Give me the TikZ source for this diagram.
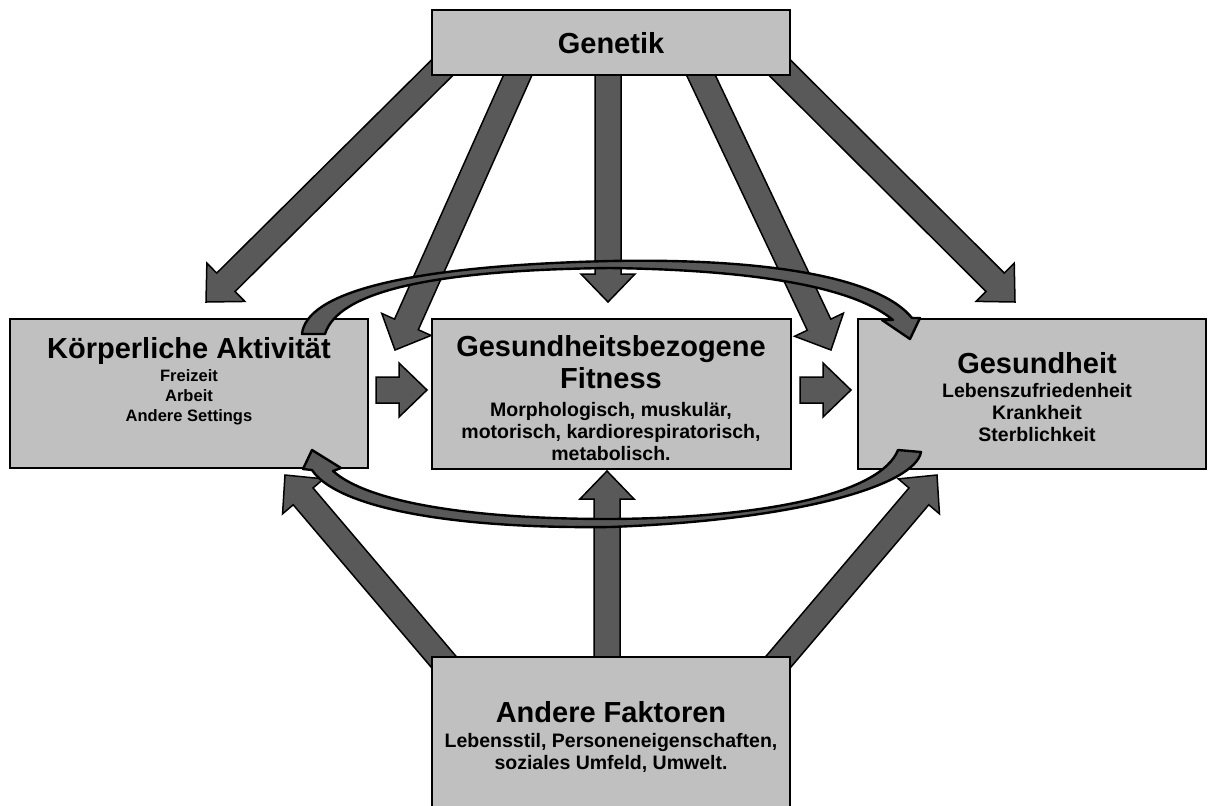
\documentclass[tikz,border=0pt]{standalone}
\usepackage{fontspec}
\setmainfont{Liberation Sans}
\usetikzlibrary{calc,backgrounds}
\definecolor{boxgray}{HTML}{C0C0C0}
\definecolor{arrowgray}{HTML}{595959}

% fonts (1 unit = 0.5pt)
\newcommand{\titlefont}{\fontsize{14.5pt}{16pt}\selectfont\bfseries}
\newcommand{\subsmall}{\fontsize{8.25pt}{10pt}\selectfont\bfseries\lineskiplimit=-20pt}
\newcommand{\sublarge}{\fontsize{9.75pt}{11pt}\selectfont\bfseries\lineskiplimit=-20pt}

\tikzset{
  box/.style={draw=black, line width=1pt, fill=boxgray, inner sep=0pt},
  txt/.style={inner sep=0pt, align=center},
  blockarrow/.style={draw=black, line width=0.75pt, fill=arrowgray, line join=miter},
  looparrow/.style={draw=black, line width=1.2pt, fill=arrowgray, line join=round},
}

% straight block arrow from #1 to the tip #2
\newcommand{\blockarrow}[2]{%
  \coordinate (ba-h) at ($(#2)!14pt!(#1)$);
  \draw[blockarrow] ($(#1)!6.5pt!90:(#2)$) -- ($(ba-h)!6.5pt!90:(#2)$)
    -- ($(ba-h)!13.5pt!90:(#2)$) -- (#2) -- ($(ba-h)!13.5pt!-90:(#2)$)
    -- ($(ba-h)!6.5pt!-90:(#2)$) -- ($(#1)!6.5pt!-90:(#2)$) -- cycle;}

\begin{document}
\begin{tikzpicture}[x=0.5pt,y=-0.5pt]
\path[use as bounding box] (0,0) rectangle (1215,805);
\clip (0,0) rectangle (1215,805);

% boxes
\node[box, minimum width=179pt, minimum height=32.5pt] (gen) at (611,42.5) {};
\node[box, minimum width=179pt, minimum height=74.5pt] (ka) at (189,393.5) {};
\node[box, minimum width=179.5pt, minimum height=75pt] (fit) at (611.5,394) {};
\node[box, minimum width=174pt, minimum height=75pt] (ges) at (1032,394) {};
\node[box, minimum width=179pt, minimum height=80pt] (af) at (611,737) {};

% texts
\node[txt, anchor=base, font=\titlefont] (gen-t) at (611,53) {Genetik};
\node[txt, anchor=north, font=\subsmall] (ka-t) at (189,337)
  {{\titlefont Körperliche Aktivität}\\[1.5pt] Freizeit\\ Arbeit\\ Andere Settings};
\node[txt, anchor=north, font=\sublarge] (fit-t) at (611,335)
  {{\titlefont Gesundheitsbezogene}\\[5pt]{\titlefont Fitness}\\[3pt]
   Morphologisch, muskulär,\\ motorisch, kardiorespiratorisch,\\ metabolisch.};
\node[txt, anchor=north, font=\sublarge] (ges-t) at (1037,352)
  {{\titlefont Gesundheit}\\[1pt] Lebenszufriedenheit\\ Krankheit\\ Sterblichkeit};
\node[txt, anchor=north, font=\sublarge] (af-t) at (611,701)
  {{\titlefont Andere Faktoren}\\[1.5pt] Lebensstil, Personeneigenschaften,\\ soziales Umfeld, Umwelt.};

% end points of the straight arrows
\coordinate (g1a) at (460,50);  \coordinate (g1b) at (206,302);
\coordinate (g2a) at (529,50);  \coordinate (g2b) at (395,350);
\coordinate (g3a) at (608,50);  \coordinate (g3b) at (608,302);
\coordinate (g4a) at (689,50);  \coordinate (g4b) at (831,350);
\coordinate (g5a) at (762,50);  \coordinate (g5b) at (1015,302);
\coordinate (b1a) at (607,700); \coordinate (b1b) at (607,471);
\coordinate (b2a) at (460,681); \coordinate (b2b) at (285,475);
\coordinate (b3a) at (762,681); \coordinate (b3b) at (937,475);
\coordinate (h1a) at (376,390); \coordinate (h1b) at (427,390);
\coordinate (h2a) at (800,390); \coordinate (h2b) at (851,390);

\begin{pgfonlayer}{background}
  \blockarrow{g1a}{g1b}
  \blockarrow{g2a}{g2b}
  \blockarrow{g3a}{g3b}
  \blockarrow{g4a}{g4b}
  \blockarrow{g5a}{g5b}
  \blockarrow{b1a}{b1b}
  \blockarrow{b2a}{b2b}
  \blockarrow{b3a}{b3b}
  \blockarrow{h1a}{h1b}
  \blockarrow{h2a}{h2b}
\end{pgfonlayer}

% upper loop: Koerperliche Aktivitaet -> Gesundheit
\draw[looparrow] (302,334) .. controls (306,294) and (400,266) .. (610,261)
  .. controls (770,258) and (880,278) .. (912,318)
  -- (920,318) -- (910,339) -- (882,320) -- (893,320)
  .. controls (855,288) and (760,270) .. (610,268)
  .. controls (430,270) and (338,292) .. (325,334) -- cycle;

% lower loop: Gesundheit -> Koerperliche Aktivitaet
\draw[looparrow] (898,450) -- (921,452)
  .. controls (915,485) and (800,520) .. (610,527)
  .. controls (440,529) and (335,505) .. (312,470)
  -- (303,469) -- (312,450) -- (341,468) -- (333,471)
  .. controls (365,500) and (460,519) .. (610,519)
  .. controls (760,518) and (880,495) .. (898,450) -- cycle;
\end{tikzpicture}
\end{document}
